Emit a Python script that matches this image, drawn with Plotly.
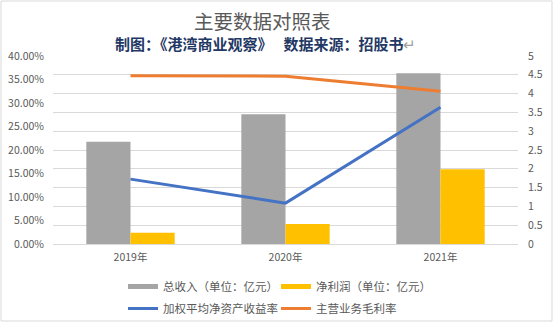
import plotly.graph_objects as go

years = ["2019年", "2020年", "2021年"]
revenue = [2.72, 3.45, 4.54]          # 总收入（单位：亿元）
net_profit = [0.30, 0.53, 1.99]       # 净利润（单位：亿元）
roe = [0.138, 0.087, 0.291]           # 加权平均净资产收益率
gross_margin = [0.358, 0.357, 0.325]  # 主营业务毛利率

left_ticks = [0, 0.05, 0.10, 0.15, 0.20, 0.25, 0.30, 0.35, 0.40]
right_ticks = [0, 0.5, 1, 1.5, 2, 2.5, 3, 3.5, 4, 4.5, 5]
right_labels = ["0", "0.5", "1", "1.5", "2", "2.5", "3", "3.5", "4", "4.5", "5"]

FONT = "Noto Sans CJK SC"
GRAY_TXT = "#595959"
C_REV, C_NP, C_ROE, C_GM = "#a5a5a5", "#ffc000", "#4472c4", "#ed7d31"

fig = go.Figure()
fig.add_trace(go.Bar(x=years, y=revenue, name="总收入（单位：亿元）", showlegend=False,
                     marker=dict(color=C_REV, line=dict(width=0)), yaxis="y"))
fig.add_trace(go.Bar(x=years, y=net_profit, name="净利润（单位：亿元）", showlegend=False,
                     marker=dict(color=C_NP, line=dict(width=0)), yaxis="y"))
# legend-only entries drawn as wide flat swatches, like the reference legend
fig.add_trace(go.Scatter(x=[None], y=[None], name="总收入（单位：亿元）", mode="lines",
                         line=dict(color=C_REV, width=5), yaxis="y", legend="legend"))
fig.add_trace(go.Scatter(x=[None], y=[None], name="净利润（单位：亿元）", mode="lines",
                         line=dict(color=C_NP, width=5), yaxis="y", legend="legend"))
fig.add_trace(go.Scatter(x=years, y=roe, name="加权平均净资产收益率", mode="lines",
                         line=dict(color=C_ROE, width=3), yaxis="y2", legend="legend2"))
fig.add_trace(go.Scatter(x=years, y=gross_margin, name="主营业务毛利率", mode="lines",
                         line=dict(color=C_GM, width=3), yaxis="y2", legend="legend2"))

W, H = 554, 323
L, R, T, B = 53, 36, 56, 79
pw, ph = W - L - R, H - T - B

def px(x):
    return (x - L) / pw

def py(y):
    return (H - B - y) / ph

leg_common = dict(orientation="h", xanchor="left", yanchor="top",
                  entrywidth=108, entrywidthmode="pixels", itemwidth=30,
                  font=dict(size=11.5, color=GRAY_TXT), bgcolor="rgba(0,0,0,0)")

fig.update_layout(
    width=W, height=H,
    margin=dict(l=L, r=R, t=T, b=B, autoexpand=False),
    paper_bgcolor="white", plot_bgcolor="white",
    font=dict(family=FONT, color=GRAY_TXT, size=11),
    barmode="group", bargap=0.43, bargroupgap=0,
    showlegend=True,
    legend=dict(x=px(123), y=py(272), **leg_common),
    legend2=dict(x=px(123), y=py(294), **leg_common),
    xaxis=dict(showgrid=False, showline=True, linecolor="#d9d9d9", linewidth=1,
               ticks="", ticklabelstandoff=3, tickfont=dict(size=10.5, color=GRAY_TXT)),
    yaxis=dict(side="right", range=[0, 5], tickvals=right_ticks, ticktext=right_labels,
               showgrid=True, gridcolor="#d9d9d9", gridwidth=1, zeroline=False,
               ticks="", ticklabelstandoff=9, tickfont=dict(size=10.5, color=GRAY_TXT)),
    yaxis2=dict(side="left", overlaying="y", range=[0, 0.40], tickvals=left_ticks,
                tickformat=".2%", showgrid=False, zeroline=False, ticks="",
                ticklabelstandoff=8, tickfont=dict(size=10.5, color=GRAY_TXT)),
    shapes=[dict(type="rect", xref="paper", yref="paper",
                 x0=px(1), x1=px(552), y0=py(321), y1=py(1),
                 line=dict(color="#d9d9d9", width=1), fillcolor="rgba(0,0,0,0)",
                 layer="below")],
    annotations=[
        dict(text="主要数据对照表", xref="paper", yref="paper", x=px(262), y=py(20),
             xanchor="center", yanchor="middle", showarrow=False,
             font=dict(size=19.5, color=GRAY_TXT, family=FONT)),
        dict(text="<b>制图：《港湾商业观察》　 数据来源：招股书</b><span style='color:#a0a0a0'>↵</span>",
             xref="paper", yref="paper", x=px(265), y=py(43.5),
             xanchor="center", yanchor="middle", showarrow=False,
             font=dict(size=15, color="#1f3864", family=FONT)),
    ],
)

fig.write_html("out.html")
